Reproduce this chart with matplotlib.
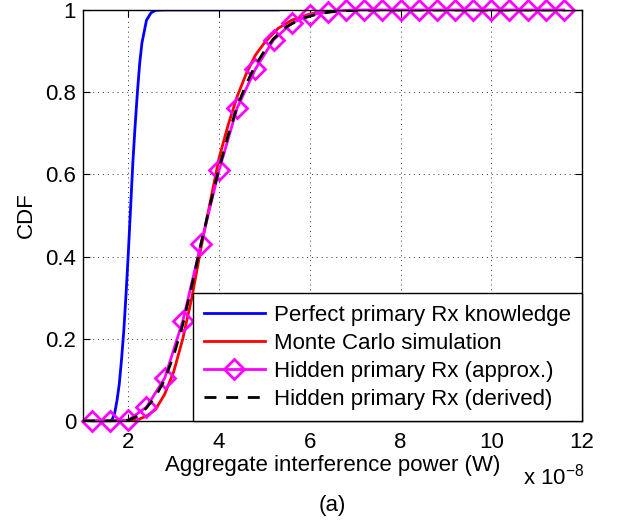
import matplotlib
matplotlib.use('Agg')
import matplotlib.pyplot as plt

plt.rcParams['font.family'] = ['Liberation Sans', 'DejaVu Sans']
plt.rcParams['mathtext.fontset'] = 'custom'
plt.rcParams['mathtext.rm'] = 'Liberation Sans'
plt.rcParams['mathtext.it'] = 'Liberation Sans'

# Perfect primary Rx knowledge
blue_x = [1.0, 1.6, 1.65, 1.7, 1.75, 1.8, 1.85, 1.9, 1.95, 2.0, 2.05, 2.1, 2.15, 2.2,
          2.25, 2.3, 2.4, 2.5, 2.6, 2.8, 5.3]
blue_y = [0, 0, 0.005, 0.02, 0.05, 0.09, 0.15, 0.22, 0.31, 0.41, 0.52, 0.63, 0.72, 0.8,
          0.87, 0.92, 0.975, 0.993, 0.999, 1.0, 1.0]

# Monte Carlo simulation
red_x = [1.0, 2.0, 2.2, 2.4, 2.6, 2.8, 3.0, 3.2, 3.4, 3.6, 3.8, 4.0, 4.2, 4.4, 4.6, 4.8,
         5.0, 5.3, 5.6, 6.0, 6.4, 7.0]
red_y = [0, 0, 0.003, 0.012, 0.028, 0.065, 0.12, 0.2, 0.3, 0.42, 0.53, 0.64, 0.72, 0.79,
         0.845, 0.89, 0.92, 0.955, 0.975, 0.99, 0.998, 1.0]

# Hidden primary Rx (approx.)
mag_x = [1.2, 1.6, 2.0, 2.4, 2.8, 3.2, 3.6, 4.0, 4.4, 4.8, 5.2, 5.6, 6.0, 6.4, 6.8, 7.2,
         7.6, 8.0, 8.4, 8.8, 9.2, 9.6, 10.0, 10.4, 10.8, 11.2, 11.6]
mag_y = [0, 0, 0.002, 0.034, 0.104, 0.243, 0.43, 0.61, 0.762, 0.856, 0.927, 0.968, 0.988,
         0.995, 0.999, 1, 1, 1, 1, 1, 1, 1, 1, 1, 1, 1, 1]

# Hidden primary Rx (derived)
blk_x = [1.0, 1.8, 2.0, 2.2, 2.4, 2.6, 2.8, 3.0, 3.2, 3.4, 3.6, 3.8, 4.0, 4.2, 4.4, 4.6,
         4.8, 5.0, 5.2, 5.5, 5.8, 6.2, 6.6, 7.0, 7.5, 11.8]
blk_y = [0, 0, 0.002, 0.012, 0.032, 0.06, 0.1, 0.16, 0.235, 0.33, 0.43, 0.525, 0.615,
         0.695, 0.765, 0.82, 0.865, 0.9, 0.93, 0.96, 0.978, 0.991, 0.997, 0.999, 1, 1]

labels = ['Perfect primary Rx knowledge', 'Monte Carlo simulation',
          'Hidden primary Rx (approx.)', 'Hidden primary Rx (derived)']

fs = 16

fig = plt.figure(figsize=(6.17, 5.23), dpi=100)
ax = fig.add_axes([0.1345, 0.195, 0.8087, 0.786])

ax.plot(blue_x, blue_y, color='#0000ff', lw=2, label=labels[0])
ax.plot(red_x, red_y, color='#ff0000', lw=2, label=labels[1])
ax.plot(mag_x, mag_y, color='#ff00ff', lw=2, marker='D', markersize=10,
        markerfacecolor='none', markeredgewidth=2, label=labels[2], clip_on=False)
ax.plot(blk_x, blk_y, color='black', lw=2, linestyle=(0, (4.3, 3.5)), label=labels[3])

ax.set_xlim(1, 12)
ax.set_ylim(0, 1)
ax.set_xticks([2, 4, 6, 8, 10, 12])
ax.set_yticks([0, 0.2, 0.4, 0.6, 0.8, 1])
ax.set_yticklabels(['0', '0.2', '0.4', '0.6', '0.8', '1'])
ax.tick_params(direction='in', top=True, right=True, labelsize=fs, length=5)
ax.tick_params(axis='x', pad=8)
ax.tick_params(axis='y', pad=5)
ax.grid(True, color='#333333', linestyle=(0, (1, 4)), lw=0.7)
for s in ax.spines.values():
    s.set_linewidth(1.0)

ax.set_xlabel('Aggregate interference power (W)', fontsize=fs, labelpad=1)
ax.set_ylabel('CDF', fontsize=fs, labelpad=6)

leg = ax.legend(loc='lower right', fontsize=fs, borderaxespad=0, fancybox=False,
                edgecolor='black', framealpha=1, handlelength=2.75, handletextpad=0.4,
                labelspacing=0.32, borderpad=0.5)
leg.get_frame().set_linewidth(1.0)

fig.text(0.848, 0.088, r'x 10$^{-8}$', fontsize=fs, ha='left', va='center')
fig.text(0.538, 0.034, '(a)', fontsize=fs, ha='center', va='center')

fig.savefig('out.png', dpi=100)
